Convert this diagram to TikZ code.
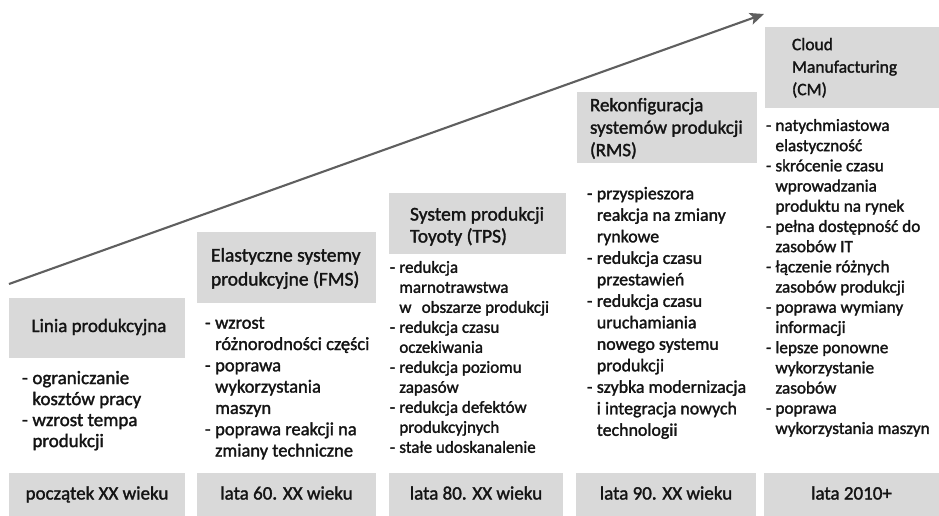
\documentclass[tikz,border=0pt]{standalone}
\usepackage{fontspec}
\setmainfont{Carlito}[FakeBold=1.6]
\usetikzlibrary{arrows.meta}
\definecolor{boxgray}{HTML}{D9D9D9}
\definecolor{ink}{HTML}{141414}
\definecolor{arrowgray}{HTML}{5F5F5F}
% bullet dash and hanging indent of continuation lines
\newcommand\bdash{\makebox[0.55em][l]{-}}
\newcommand\bcont{\hspace*{0.55em}}
\newcommand\fs[2]{\fontsize{#1}{#2}\selectfont}
\begin{document}
\begin{tikzpicture}[x=1pt,y=-1pt,
  every node/.style={inner sep=0pt, outer sep=0pt, text=ink},
  graybox/.style={fill=boxgray, draw=none, rectangle, anchor=north west},
  title/.style={anchor=north west, align=left},
  list/.style={anchor=north west, align=left},
  era/.style={anchor=base, font=\fs{19}{23}},
]
\useasboundingbox (0,0) rectangle (939,516);
\fill[white] (0,0) rectangle (939,516);

% growth arrow
\coordinate (arrS) at (9,284);
\coordinate (arrE) at (764,14);
\draw[arrowgray, line width=2.1pt, -{Stealth[length=14pt,width=12pt,inset=3pt]}] (arrS) -- (arrE);

% header boxes
\node[graybox, minimum width=176pt, minimum height=60pt] (h1) at (9,298) {};
\node[graybox, minimum width=179pt, minimum height=71pt] (h2) at (197,232) {};
\node[graybox, minimum width=177pt, minimum height=61pt] (h3) at (389,193) {};
\node[graybox, minimum width=180pt, minimum height=71pt] (h4) at (577,92) {};
\node[graybox, minimum width=174pt, minimum height=81pt] (h5) at (765,27) {};

% period boxes
\node[graybox, minimum width=176pt, minimum height=43pt] (p1) at (9,473) {};
\node[graybox, minimum width=179pt, minimum height=43pt] (p2) at (197,473) {};
\node[graybox, minimum width=174pt, minimum height=43pt] (p3) at (389,473) {};
\node[graybox, minimum width=180pt, minimum height=43pt] (p4) at (576,473) {};
\node[graybox, minimum width=175pt, minimum height=43pt] (p5) at (764,473) {};

% titles
\node[anchor=base, font=\fs{19}{23}] (t1) at (99,332) {Linia produkcyjna};
\node[title, font=\fs{19.5}{24}] (t2) at (211,248) {Elastyczne systemy\\produkcyjne (FMS)};
\node[title, font=\fs{19.5}{22}] (t3) at (410,207) {System produkcji\\Toyoty (TPS)};
\node[title, font=\fs{19}{22.5}] (t4) at (590,98) {Rekonfiguracja\\systemów produkcji\\(RMS)};
\node[title, font=\fs{17.5}{22.5}] (t5) at (792,38) {Cloud\\Manufacturing\\(CM)};

% lists of features
\node[list, font=\fs{19}{21}] (l1) at (22,371) {%
\bdash ograniczanie\\\bcont kosztów pracy\\\bdash wzrost tempa\\\bcont produkcji};
\node[list, font=\fs{18.5}{21.3}] (l2) at (205,317) {%
\bdash wzrost\\\bcont różnorodności części\\\bdash poprawa\\\bcont wykorzystania\\\bcont maszyn\\\bdash poprawa reakcji na\\\bcont zmiany techniczne};
\node[list, font=\fs{17}{20}] (l3) at (390,261) {%
\bdash redukcja\\\bcont marnotrawstwa\\\bcont w\hspace{0.6em}obszarze produkcji\\\bdash redukcja czasu\\\bcont oczekiwania\\\bdash redukcja poziomu\\\bcont zapasów\\\bdash redukcja defektów\\\bcont produkcyjnych\\\bdash stałe udoskanalenie};
\node[list, font=\fs{17.9}{21.5}] (l4) at (587,187) {%
\bdash przyspieszora\\\bcont reakcja na zmiany\\\bcont rynkowe\\\bdash redukcja czasu\\\bcont przestawień\\\bdash redukcja czasu\\\bcont uruchamiania\\\bcont nowego systemu\\\bcont produkcji\\\bdash szybka modernizacja\\\bcont i integracja nowych\\\bcont technologii};
\node[list, font=\fs{17.2}{20.2}] (l5) at (766,119) {%
\bdash natychmiastowa\\\bcont elastyczność\\\bdash skrócenie czasu\\\bcont wprowadzania\\\bcont produktu na rynek\\\bdash pełna dostępność do\\\bcont zasobów IT\\\bdash łączenie różnych\\\bcont zasobów produkcji\\\bdash poprawa wymiany\\\bcont informacji\\\bdash lepsze ponowne\\\bcont wykorzystanie\\\bcont zasobów\\\bdash poprawa\\\bcont wykorzystania maszyn};

% periods
\node[era] (e1) at (97,499.5) {początek XX wieku};
\node[era] (e2) at (286.5,499.5) {lata 60. XX wieku};
\node[era] (e3) at (476,499.5) {lata 80. XX wieku};
\node[era] (e4) at (666,499.5) {lata 90. XX wieku};
\node[era] (e5) at (851.5,499.5) {lata 2010+};
\end{tikzpicture}
\end{document}
